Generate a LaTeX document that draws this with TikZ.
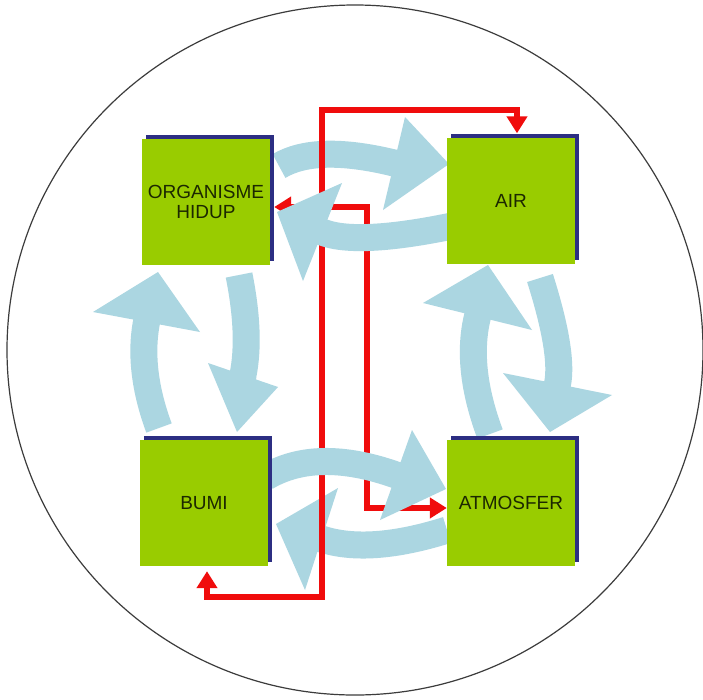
\documentclass[tikz,border=0pt]{standalone}
\usepackage{fontspec}
\setmainfont{Liberation Sans}
\usetikzlibrary{calc,shadows,arrows.meta}
\pgfdeclarelayer{back}
\pgfdeclarelayer{redl}
\pgfdeclarelayer{front}
\pgfsetlayers{back,redl,front,main}
\definecolor{boxgreen}{RGB}{153,204,0}
\definecolor{boxshadow}{RGB}{44,46,130}
\definecolor{cycblue}{RGB}{171,214,225}
\definecolor{flowred}{RGB}{240,12,12}
\definecolor{labelink}{RGB}{28,40,0}
\definecolor{rimgray}{RGB}{60,60,60}

% curved cycle arrow: start, bend point, head base centre, head corner, head corner, tip
\newcommand\cycarrow[6]{%
  \draw[cycband] (#1) .. controls ($(#1)!0.667!(#2)$) and ($(#3)!0.667!(#2)$) .. (#3)
    -- ($(#3)!8pt!(#6)$);
  \fill[cycblue] (#4) -- (#6) -- (#5) -- cycle;
}

\begin{document}
\begin{tikzpicture}[x=1pt,y=-1pt,
  cycband/.style={draw=cycblue, line width=27pt},
  box/.style={fill=boxgreen, minimum width=128pt, minimum height=126pt,
    inner sep=0pt, align=center, text=labelink,
    font=\fontsize{19}{20.5}\selectfont,
    general shadow={fill=boxshadow, shadow xshift=4pt, shadow yshift=4pt}},
  redline/.style={draw=flowred, line width=6pt,
    arrows={Triangle[width=20pt,length=17pt]-Triangle[width=20pt,length=17pt]}}]

\useasboundingbox (0,0) rectangle (703,699);

% the four reservoirs
\node[box] (oh) at (206,202) {ORGANISME\\HIDUP};
\node[box] (air) at (511,200.5) {AIR};
\node[box] (bumi) at (204,503) {BUMI};
\node[box] (atm) at (511,503) {ATMOSFER};

\begin{pgfonlayer}{back}
  \fill[white] (0,0) rectangle (703,699);
  \draw[rimgray, line width=1.2pt] (355,350) ellipse [x radius=348pt, y radius=345pt];
  % organisme hidup <-> bumi
  \cycarrow{159,428}{137.5,370}{146.5,322}{93,312}{200,332}{158,272}
  \cycarrow{239,275}{251,335}{243,375}{208,363}{278,387}{237,432}
  % air <-> atmosfer
  \cycarrow{490,434}{465,367}{477.5,316.5}{423,303}{532,330}{488,265}
  \cycarrow{540,278}{563.7,353}{557.5,384}{503,373}{612,395}{550,432}
  % organisme hidup -> air
  \cycarrow{279,166}{316,144}{394,163}{405,117}{383,210}{449,164}
  % atmosfer -> bumi
  \cycarrow{447,530}{369.4,554.5}{321.5,539}{338,488}{305,590}{276,524}
\end{pgfonlayer}

\begin{pgfonlayer}{redl}
  \draw[redline] ([xshift=3pt,yshift=-5pt]bumi.south) |- (322,597) -- (322,110)
    -| ([xshift=6pt,yshift=4pt]air.north);
  \draw[redline] ([xshift=4pt,yshift=-5pt]oh.east) -- (367,207) -- (367,508)
    -- ([yshift=-5pt]atm.west);
\end{pgfonlayer}

\begin{pgfonlayer}{front}
  % air -> organisme hidup
  \cycarrow{452,226}{356.5,245.7}{322,232}{342,183}{303,281}{277,212}
  % bumi -> atmosfer
  \cycarrow{266,477}{317,447}{396,475}{412,430}{380,520}{446,489}
\end{pgfonlayer}
\end{tikzpicture}
\end{document}
